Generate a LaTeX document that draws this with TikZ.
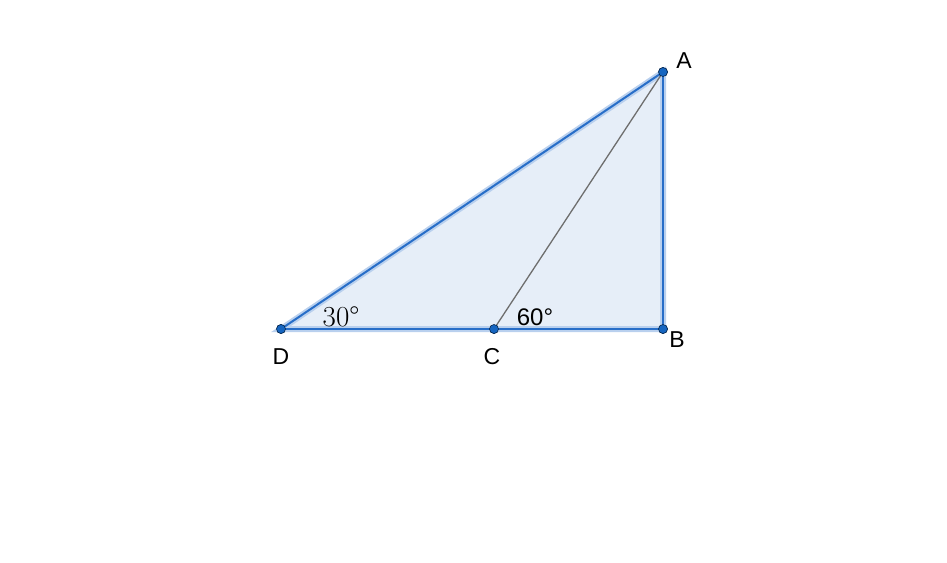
\documentclass[tikz,border=0pt]{standalone}
\usepackage{fontspec}
\setmainfont{Liberation Sans}
\newfontfamily\lmroman{Latin Modern Roman}
\usetikzlibrary{positioning,calc}

\definecolor{edgeblue}{RGB}{40,110,200}
\definecolor{ptblue}{RGB}{21,101,192}
\definecolor{haloblue}{RGB}{185,208,238}
\definecolor{fillblue}{RGB}{230,238,248}
\definecolor{segray}{RGB}{110,110,110}

\tikzset{
  pt/.style={circle, draw=black!60!ptblue, fill=ptblue, line width=0.6pt, inner sep=0pt, minimum size=9pt},
  side/.style={draw=edgeblue, line width=2pt},
  halo/.style={draw=haloblue, line width=6pt},
  lbl/.style={font=\fontsize{23}{27}\selectfont, inner sep=0pt}
}

\begin{document}
\begin{tikzpicture}[x=1pt, y=-1pt]
 	\useasboundingbox (0,0) rectangle (947,562);

 	% points
 	\node[pt] (A) at (663,72) {};
 	\node[pt] (B) at (663,329) {};
 	\node[pt] (C) at (494,329) {};
 	\node[pt] (D) at (281,329) {};

 	% triangle
 	\fill[fillblue] (A.center) -- (B.center) -- (D.center) -- cycle;
 	\draw[halo] (A.center) -- (B.center) -- (D.center) -- cycle;
 	\draw[side] (A.center) -- (B.center);
 	\draw[side] (B.center) -- (D.center);
 	\draw[side] (D.center) -- (A.center);

 	% segment
 	\draw[segray, line width=1.3pt] (C.center) -- (A.center);

 	% redraw points on top
 	\foreach \p in {A,B,C,D}
 	  \node[pt] at (\p) {};

 	% labels
 	\node[lbl] (labA) at (684,61) {A};
 	\node[lbl] (labB) at (677,340) {B};
 	\node[lbl] (labC) at (492,357) {C};
 	\node[lbl] (labD) at (281,357) {D};
 	\node[inner sep=0pt, font=\lmroman\fontsize{29}{32}\selectfont] (angD) at (341,317) {30°};
 	\node[inner sep=0pt, font=\fontsize{24}{28}\selectfont] (angC) at (535,317) {60°};
\end{tikzpicture}
\end{document}
